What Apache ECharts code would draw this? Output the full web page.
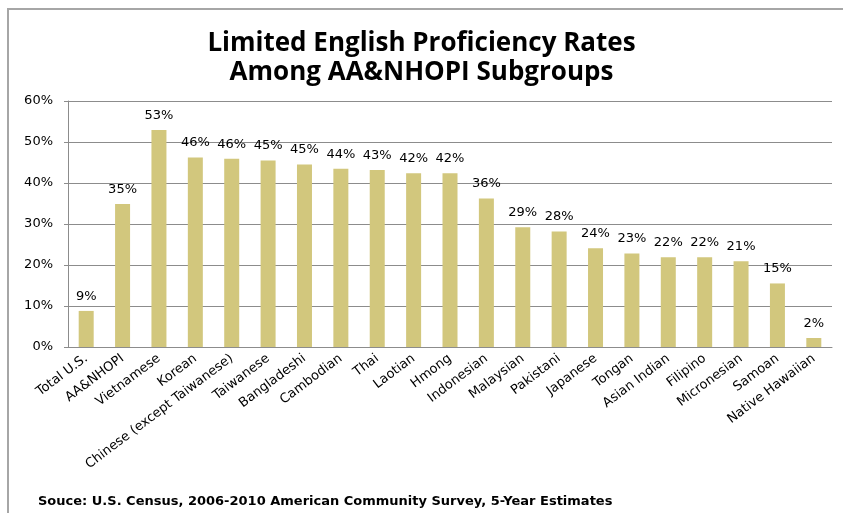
<!DOCTYPE html>
<html>
<head>
<meta charset="utf-8">
<script src="https://cdn.jsdelivr.net/npm/echarts@6/dist/echarts.min.js"></script>
<style>
  html, body { margin: 0; padding: 0; background: #fff; }
  #chart { width: 843px; height: 513px; }
</style>
</head>
<body>
<div id="chart"></div>
<script>
// 数据
var categories = ['Total U.S.', 'AA&NHOPI', 'Vietnamese', 'Korean', 'Chinese (except Taiwanese)',
  'Taiwanese', 'Bangladeshi', 'Cambodian', 'Thai', 'Laotian', 'Hmong', 'Indonesian', 'Malaysian',
  'Pakistani', 'Japanese', 'Tongan', 'Asian Indian', 'Filipino', 'Micronesian', 'Samoan', 'Native Hawaiian']
var rates = [8.8, 34.9, 52.9, 46.2, 45.9, 45.5, 44.5, 43.5, 43.2, 42.4, 42.4, 36.2, 29.2,
  28.2, 24.1, 22.8, 21.9, 21.9, 20.9, 15.5, 2.2]
var rateLabels = ['9%', '35%', '53%', '46%', '46%', '45%', '45%', '44%', '43%', '42%', '42%', '36%',
  '29%', '28%', '24%', '23%', '22%', '22%', '21%', '15%', '2%']
var yTicks = [0, 10, 20, 30, 40, 50, 60]

var chart = echarts.init(document.getElementById('chart'))

var option = {
  backgroundColor: '#fff',
  animation: false,
  title: [{
    text: 'Limited English Proficiency Rates\nAmong AA&NHOPI Subgroups',
    left: 'center',
    top: 24,
    textStyle: {
      fontFamily: 'Open Sans',
      fontWeight: 'bold',
      fontSize: 26,
      lineHeight: 29,
      color: '#000'
    }
  }, {
    text: 'Souce: U.S. Census, 2006-2010 American Community Survey, 5-Year Estimates',
    left: 33,
    top: 490,
    textStyle: {
      fontFamily: 'DejaVu Sans',
      fontWeight: 'bold',
      fontSize: 13,
      color: '#000'
    }
  }],
  graphic: [{
    type: 'polyline',
    shape: { points: [[843, 9], [8, 9], [8, 513]] },
    style: { stroke: '#a6a6a6', lineWidth: 2, fill: null }
  }],
  grid: {
    left: 68,
    right: 11,
    top: 101,
    bottom: 166
  },
  xAxis: {
    type: 'category',
    data: categories,
    axisLine: { lineStyle: { color: '#8c8c8c' } },
    axisTick: { length: 5, lineStyle: { color: '#8c8c8c' } },
    axisLabel: {
      interval: 0,
      rotate: 37,
      margin: 10,
      fontFamily: 'DejaVu Sans',
      fontSize: 13,
      color: '#000'
    }
  },
  yAxis: {
    type: 'value',
    min: 0,
    max: 60,
    interval: 10,
    axisLine: { show: true, lineStyle: { color: '#8c8c8c' } },
    axisTick: { show: true, length: 4, lineStyle: { color: '#8c8c8c' } },
    splitLine: { lineStyle: { color: '#8c8c8c' } },
    axisLabel: {
      margin: 15,
      fontFamily: 'DejaVu Sans',
      fontSize: 13,
      color: '#000',
      formatter: function (v) {
        return yTicks.indexOf(v) >= 0 ? v + '%' : ''
      }
    }
  },
  series: [{
    type: 'bar',
    data: rates,
    barWidth: 15,
    itemStyle: { color: '#d2c77d' },
    label: {
      show: true,
      position: 'top',
      distance: 8,
      fontFamily: 'DejaVu Sans',
      fontSize: 13,
      color: '#000',
      formatter: function (p) {
        return rateLabels[p.dataIndex]
      }
    }
  }]
}

chart.setOption(option)
</script>
</body>
</html>
